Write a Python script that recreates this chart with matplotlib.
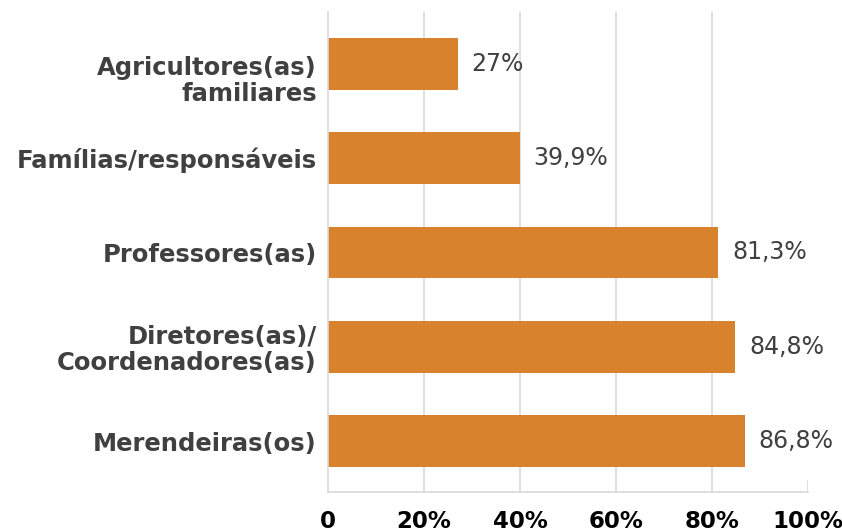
import matplotlib
matplotlib.use("Agg")
import matplotlib.pyplot as plt
from matplotlib.transforms import ScaledTranslation

categories = ["Agricultores(as)\nfamiliares", "Famílias/responsáveis", "Professores(as)",
              "Diretores(as)/\nCoordenadores(as)", "Merendeiras(os)"]
values = [27, 39.9, 81.3, 84.8, 86.8]
value_labels = ["27%", "39,9%", "81,3%", "84,8%", "86,8%"]
xticks = [0, 20, 40, 60, 80, 100]
xtick_labels = ["0", "20%", "40%", "60%", "80%", "100%"]

bar_color = "#D9822E"
grid_color = "#D9D9D9"
label_color = "#404040"
FONT = "DejaVu Sans"

fig = plt.figure(figsize=(8.42, 5.32), dpi=100)
ax = fig.add_axes([328/842, 40/532, 480/842, 480/532])

y = list(range(len(categories)))
ax.barh(y, values, height=0.55, color=bar_color, zorder=2)
ax.set_ylim(4.54, -0.55)
ax.set_xlim(0, 100)

for yi, v, lab in zip(y, values, value_labels):
    ax.annotate(lab, (v, yi), xytext=(10, 0), textcoords="offset points",
                va="center", ha="left", fontsize=17, family=FONT, color=label_color)

ax.set_yticks(y)
ax.set_yticklabels(categories, fontsize=17.5, fontweight="bold", family=FONT,
                   color=label_color, linespacing=1.1)
ax.tick_params(axis="y", length=0, pad=8)
# first label sits slightly lower in the reference
lbl0 = ax.get_yticklabels()[0]
lbl0.set_transform(lbl0.get_transform() + ScaledTranslation(0, -14/100, fig.dpi_scale_trans))

ax.set_xticks(xticks)
ax.set_xticklabels(xtick_labels, fontsize=16.5, fontweight="bold", family=FONT,
                   color="black")
ax.tick_params(axis="x", length=0, pad=13)

for x in xticks[1:-1]:
    ax.axvline(x, color=grid_color, lw=1.2, zorder=1)
ax.axvline(100, ymin=0, ymax=0.022, color=grid_color, lw=1.2, zorder=1)

for s in ["top", "right"]:
    ax.spines[s].set_visible(False)
ax.spines["left"].set_color(grid_color)
ax.spines["left"].set_linewidth(1.2)
ax.spines["bottom"].set_color(grid_color)
ax.spines["bottom"].set_linewidth(1.2)

fig.savefig("out.png", dpi=100)
